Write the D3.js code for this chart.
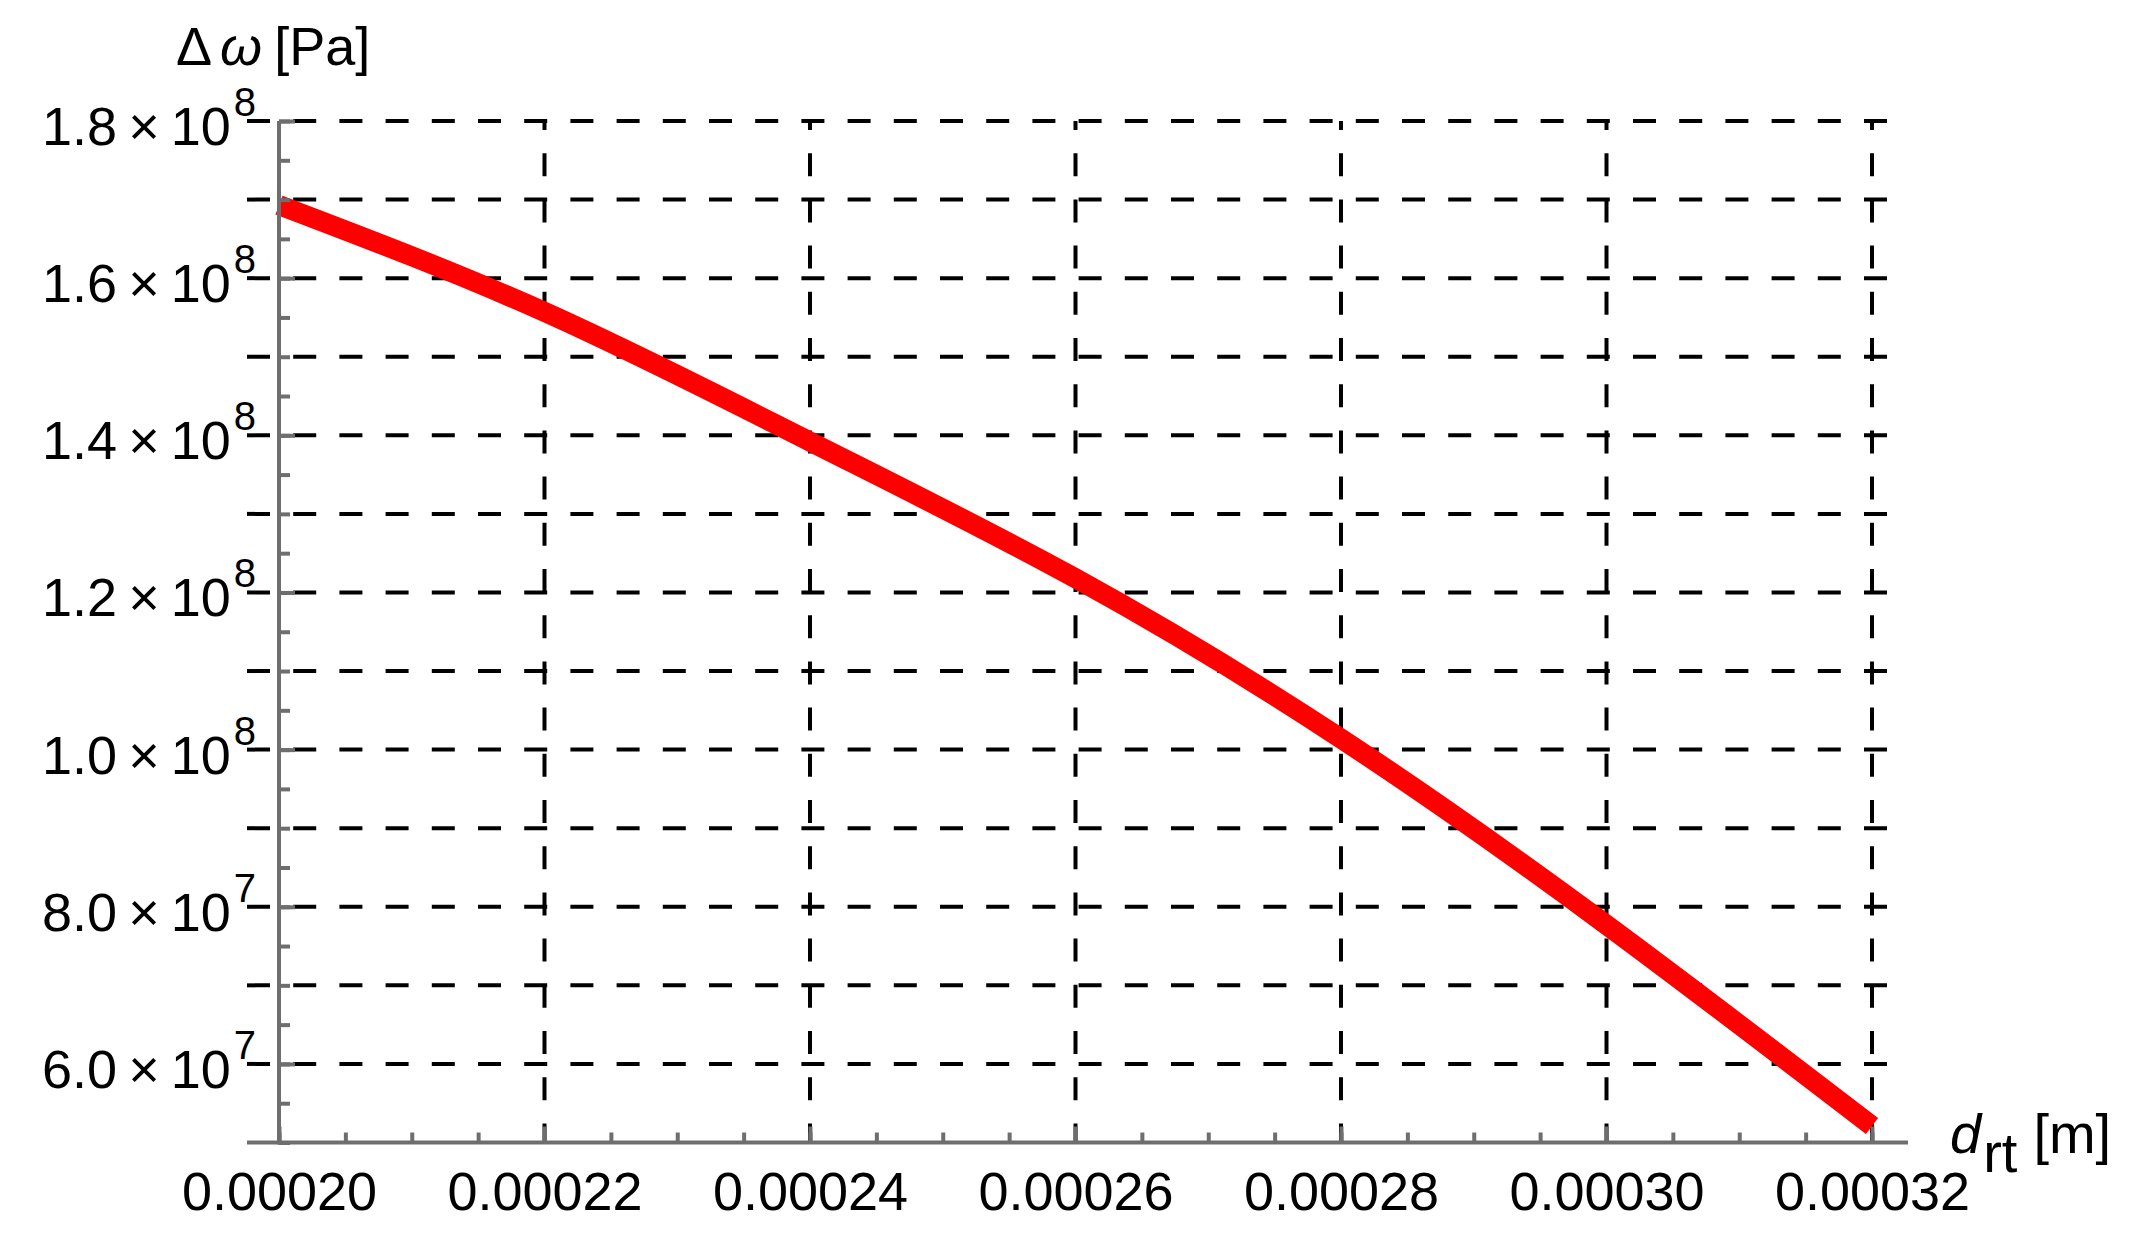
<!DOCTYPE html>
<html>
<head>
<meta charset="utf-8">
<script src="https://cdn.jsdelivr.net/npm/d3@7"></script>
<style>
  html, body { margin: 0; padding: 0; background: #fff; }
  svg text { font-family: "Liberation Sans", Arial, sans-serif; fill: #000; }
</style>
</head>
<body>
<div id="chart"></div>
<script>
// curve
const dRt = [0.00020, 0.00022, 0.00024, 0.00026, 0.00028, 0.00030, 0.00032];
const deltaOmega = [1.693e8, 1.557e8, 1.392e8, 1.218e8, 1.014e8, 0.777e8, 0.521e8];

// x ticks
const xTickValues = [0.00020, 0.00022, 0.00024, 0.00026, 0.00028, 0.00030, 0.00032];
const xTickLabels = ["0.00020", "0.00022", "0.00024", "0.00026", "0.00028", "0.00030", "0.00032"];
const xMinorStep = 0.000005;

// y ticks
const yTickValues = [1.8e8, 1.6e8, 1.4e8, 1.2e8, 1.0e8, 8.0e7, 6.0e7];
const yTickMantissa = ["1.8", "1.6", "1.4", "1.2", "1.0", "8.0", "6.0"];
const yTickExponent = ["8", "8", "8", "8", "8", "7", "7"];
const yGridValues = [1.8e8, 1.7e8, 1.6e8, 1.5e8, 1.4e8, 1.3e8, 1.2e8, 1.1e8, 1.0e8, 9e7, 8e7, 7e7, 6e7];
const yMinorStep = 5e6;

const width = 2150, height = 1259;
const svg = d3.select("#chart").append("svg")
    .attr("width", width)
    .attr("height", height);

const x = d3.scaleLinear().domain([0.00020, 0.00032]).range([279, 1872]);
const y = d3.scaleLinear().domain([5.0e7, 1.8e8]).range([1142.5, 121]);

const gridLeft = x.range()[0] - 32;
const gridRight = x.range()[1] + 16;
const axisRight = x.range()[1] + 36;

// grid
const grid = svg.append("g");
grid.selectAll("line.h").data(yGridValues).enter().append("line")
    .attr("x1", gridLeft)
    .attr("x2", gridRight)
    .attr("y1", d => y(d))
    .attr("y2", d => y(d))
    .attr("stroke", "#000")
    .attr("stroke-width", 4)
    .attr("stroke-dasharray", "23,23.2");

grid.selectAll("line.v").data(xTickValues.slice(1)).enter().append("line")
    .attr("x1", d => x(d))
    .attr("x2", d => x(d))
    .attr("y1", y.range()[1])
    .attr("y2", y.range()[0])
    .attr("stroke", "#000")
    .attr("stroke-width", 4)
    .attr("stroke-dasharray", "23,23.2")
    .attr("stroke-dashoffset", 14);

// curve
const points = dRt.map((d, i) => [d, deltaOmega[i]]);
const line = d3.line()
    .x(d => x(d[0]))
    .y(d => y(d[1]))
    .curve(d3.curveNatural);

svg.append("path")
    .datum(points)
    .attr("d", line)
    .attr("fill", "none")
    .attr("stroke", "#ff0000")
    .attr("stroke-width", 20);

// axes
const axisColor = "#6e6e6e";
const xMinor = d3.range(x.domain()[0], x.domain()[1] + 1e-9, xMinorStep);
const yMinor = d3.range(y.domain()[0], y.domain()[1] + 1, yMinorStep);

const xAxisMinor = svg.append("g")
    .attr("transform", `translate(0,${y.range()[0]})`)
    .call(d3.axisBottom(x).tickValues(xMinor).tickSize(-10).tickFormat(""));

const xAxis = svg.append("g")
    .attr("transform", `translate(0,${y.range()[0]})`)
    .call(d3.axisBottom(x).tickValues(xTickValues).tickSize(-16).tickPadding(29)
        .tickFormat((d, i) => xTickLabels[i]));

xAxis.selectAll("text").attr("font-size", 54).attr("fill", "#000");

const yAxisMinor = svg.append("g")
    .attr("transform", `translate(${x.range()[0]},0)`)
    .call(d3.axisLeft(y).tickValues(yMinor).tickSize(-11).tickFormat(""));

const yAxis = svg.append("g")
    .attr("transform", `translate(${x.range()[0]},0)`)
    .call(d3.axisLeft(y).tickValues(yTickValues).tickSize(-16).tickFormat(""));

[xAxisMinor, xAxis, yAxisMinor, yAxis].forEach(g => {
    g.select(".domain").remove();
    g.selectAll(".tick line").attr("stroke", axisColor).attr("stroke-width", 4);
});

svg.append("line")
    .attr("x1", gridLeft).attr("x2", axisRight)
    .attr("y1", y.range()[0]).attr("y2", y.range()[0])
    .attr("stroke", axisColor).attr("stroke-width", 4);

svg.append("line")
    .attr("x1", x.range()[0]).attr("x2", x.range()[0])
    .attr("y1", y.range()[1]).attr("y2", y.range()[0] + 2)
    .attr("stroke", axisColor).attr("stroke-width", 4);

// y tick labels  m × 10^e
const yLabels = svg.append("g");
yTickValues.forEach((v, i) => {
    const t = yLabels.append("text")
        .attr("x", x.range()[0] - 23)
        .attr("y", y(v) + 24)
        .attr("text-anchor", "end")
        .attr("font-size", 54);
    t.append("tspan").text(yTickMantissa[i]);
    t.append("tspan").attr("dx", 11).text("\u00d7");
    t.append("tspan").attr("dx", 11).text("10");
    t.append("tspan").attr("dx", 3).attr("dy", -29).attr("font-size", 40).text(yTickExponent[i]);
});

// axis titles
const yTitle = svg.append("text")
    .attr("x", 176)
    .attr("y", 65)
    .attr("font-size", 54);
yTitle.append("tspan").text("\u0394");
yTitle.append("tspan").attr("dx", 8).attr("font-style", "italic").text("\u03c9");
yTitle.append("tspan").attr("dx", 12).text("[Pa]");

const xTitle = svg.append("text")
    .attr("x", 1950)
    .attr("y", 1153)
    .attr("font-size", 56);
xTitle.append("tspan").attr("font-style", "italic").text("d");
xTitle.append("tspan").attr("dx", 2).attr("dy", 19).text("rt");
xTitle.append("tspan").attr("dx", 16).attr("dy", -19).text("[m]");
</script>
</body>
</html>
